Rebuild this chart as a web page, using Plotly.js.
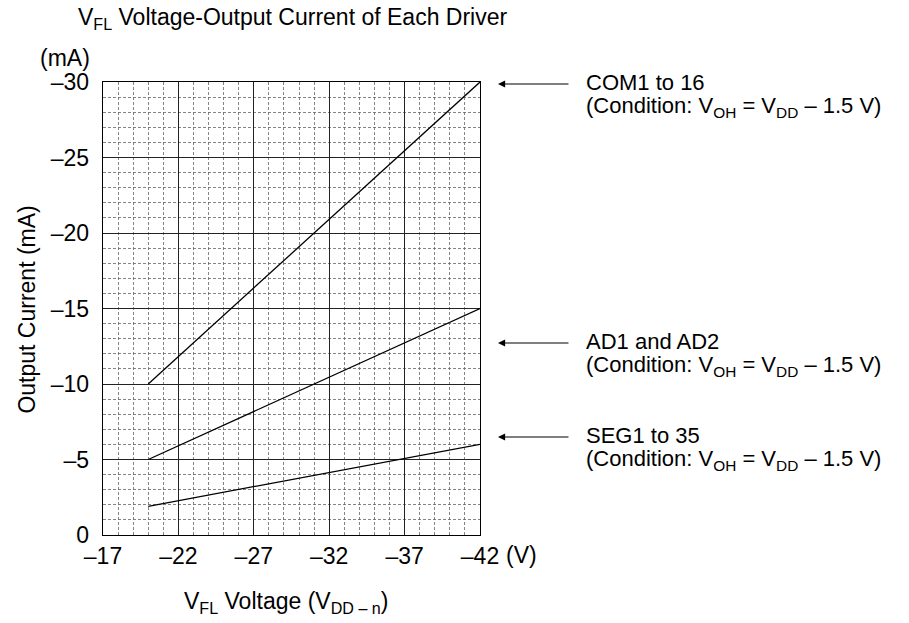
<!DOCTYPE html>
<html>
<head>
<meta charset="utf-8">
<script src="https://cdn.plot.ly/plotly-3.0.1.min.js"></script>
<style>html,body{margin:0;padding:0;background:#fff;}#chart{width:909px;height:623px;}</style>
</head>
<body>
<div id="chart"></div>
<script>
// Data
const vflVoltage = [-20, -42];
const comCurrent = [-10, -30];
const adCurrent = [-5, -15];
const segCurrent = [-1.9, -6];

const xTickVals = [-17, -22, -27, -32, -37, -42];
const xTickText = ['–17', '–22', '–27', '–32', '–37', '–42'];
const yTickVals = [0, -5, -10, -15, -20, -25, -30];
const yTickText = ['0', '–5', '–10', '–15', '–20', '–25', '–30'];

const seriesNames = ['COM1 to 16', 'AD1 and AD2', 'SEG1 to 35'];
const conditionText = '(Condition: V<sub>OH</sub> = V<sub>DD</sub> – 1.5 V)';

const FONT = 'Liberation Sans, Arial, Helvetica, sans-serif';
const FS = 23;
const lineStyle = {color: '#000', width: 1.3};

const traces = [comCurrent, adCurrent, segCurrent].map((ys, i) => ({
  x: vflVoltage, y: ys, type: 'scatter', mode: 'lines',
  line: lineStyle, name: seriesNames[i], showlegend: false, hoverinfo: 'skip'
}));

const L = 102.5, R = 480, T = 82, B = 535;
const W = R - L, H = B - T;
const px = p => (p - L) / W;          // pixel x -> paper
const py = p => (B - p) / H;          // pixel y -> paper
const f = {family: FONT, size: FS, color: '#000'};
const fl = {family: FONT, size: 22, color: '#000'};

const annotations = [];
const arrowY = [84, 343, 437];
arrowY.forEach((yy, i) => {
  annotations.push({
    xref: 'paper', yref: 'paper', x: px(498), y: py(yy),
    axref: 'pixel', ayref: 'pixel', ax: 72, ay: 0,
    text: '', showarrow: true, arrowhead: 2, arrowsize: 1.3, arrowwidth: 1.1, arrowcolor: '#000'
  });
  annotations.push({
    xref: 'paper', yref: 'paper', x: px(584), y: py(yy - 2), xanchor: 'left', yanchor: 'middle',
    align: 'left', showarrow: false, text: seriesNames[i], font: fl
  });
  annotations.push({
    xref: 'paper', yref: 'paper', x: px(584), y: py(yy + 23), xanchor: 'left', yanchor: 'middle',
    align: 'left', showarrow: false, text: conditionText, font: fl
  });
});
annotations.push({
  xref: 'paper', yref: 'paper', x: px(75), y: py(19), xanchor: 'left', yanchor: 'middle',
  showarrow: false, text: 'V<sub>FL</sub> Voltage-Output Current of Each Driver', font: f
});
annotations.push({
  xref: 'paper', yref: 'paper', x: px(37), y: py(58), xanchor: 'left', yanchor: 'middle',
  showarrow: false, text: '(mA)', font: f
});
annotations.push({
  xref: 'paper', yref: 'paper', x: px(504), y: py(555), xanchor: 'left', yanchor: 'middle',
  showarrow: false, text: '(V)', font: f
});
annotations.push({
  xref: 'paper', yref: 'paper', x: px(26), y: py(310), xanchor: 'center', yanchor: 'middle',
  textangle: -90, showarrow: false, text: 'Output Current (mA)', font: f
});
annotations.push({
  xref: 'paper', yref: 'paper', x: px(286), y: py(602), xanchor: 'center', yanchor: 'middle',
  showarrow: false, text: 'V<sub>FL</sub> Voltage (V<sub>DD – n</sub>)', font: f
});

const minorGrid = {showgrid: true, gridcolor: '#666', gridwidth: 0.8, griddash: '3px,2px'};

const layout = {
  width: 909, height: 623,
  margin: {l: L, r: 909 - R, t: T, b: 623 - B, pad: 0},
  paper_bgcolor: '#fff', plot_bgcolor: '#fff',
  font: f,
  xaxis: {
    range: [-17, -42], tickmode: 'array', tickvals: xTickVals, ticktext: xTickText,
    showgrid: true, gridcolor: '#222', gridwidth: 1,
    zeroline: false, showline: true, mirror: true, linecolor: '#000', linewidth: 1.3,
    ticks: '', ticklabelstandoff: 0, tickfont: f,
    minor: Object.assign({tick0: -17, dtick: 1}, minorGrid)
  },
  yaxis: {
    range: [0, -30], tickmode: 'array', tickvals: yTickVals, ticktext: yTickText,
    showgrid: true, gridcolor: '#222', gridwidth: 1,
    zeroline: false, showline: true, mirror: true, linecolor: '#000', linewidth: 1.3,
    ticks: '', ticklabelstandoff: 8, tickfont: f,
    minor: Object.assign({tick0: 0, dtick: 1}, minorGrid)
  },
  annotations: annotations,
  showlegend: false
};

Plotly.newPlot('chart', traces, layout, {displayModeBar: false, staticPlot: true});
</script>
</body>
</html>
